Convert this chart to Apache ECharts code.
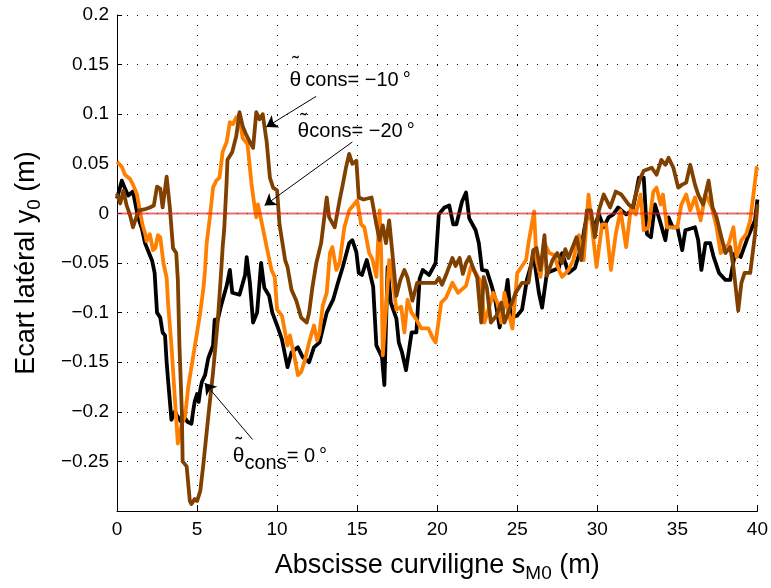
<!DOCTYPE html>
<html>
<head>
<meta charset="utf-8">
<script src="https://cdn.jsdelivr.net/npm/echarts@6/dist/echarts.min.js"></script>
<style>
  html, body { margin: 0; padding: 0; background: #fff; }
  #chart { width: 771px; height: 588px; }
</style>
</head>
<body>
<div id="chart"></div>
<script>
// abscisse (m) / écart latéral (m)
const xBlack = [0, 0.3, 0.5, 0.7, 1.0, 1.3, 1.55, 1.75, 2.0, 2.2, 2.35, 2.5, 2.7, 2.85, 3.0, 3.1, 3.2, 3.4, 3.5, 3.6, 3.8, 4.0, 4.2, 4.4, 4.65, 4.75, 4.85, 5.0, 5.1, 5.2, 5.3, 5.5, 5.7, 6.0, 6.1, 6.3, 6.5, 6.85, 7.05, 7.2, 7.65, 8.0, 8.1, 8.3, 8.5, 8.75, 9.0, 9.2, 9.5, 9.7, 10.0, 10.3, 10.65, 10.9, 11.3, 11.6, 12.0, 12.3, 12.65, 13.1, 13.5, 13.8, 14.1, 14.5, 14.7, 14.95, 15.1, 15.3, 15.6, 16.0, 16.2, 16.4, 16.55, 16.7, 16.9, 17.1, 17.45, 17.6, 17.8, 18.05, 18.4, 18.7, 18.9, 19.1, 19.5, 19.9, 20.1, 20.45, 20.75, 21.0, 21.2, 21.55, 21.8, 22.0, 22.4, 22.6, 22.8, 23.1, 23.4, 23.6, 23.9, 24.2, 24.4, 24.6, 25.0, 25.3, 25.6, 25.9, 26.0, 26.35, 26.55, 26.85, 27.3, 27.6, 27.8, 28.2, 28.6, 29.0, 29.2, 29.45, 29.8, 30.1, 30.4, 30.7, 31.0, 31.3, 31.8, 32.2, 32.4, 32.6, 32.9, 33.1, 33.35, 33.6, 33.9, 34.25, 34.45, 34.7, 35.0, 35.3, 35.5, 35.7, 36.1, 36.3, 36.5, 36.75, 37.05, 37.25, 37.6, 38.0, 38.3, 38.6, 38.95, 39.4, 39.85, 40.0]
const yBlack = [0.015, 0.033, 0.025, 0.018, 0.022, -0.003, -0.015, -0.03, -0.04, -0.048, -0.06, -0.1, -0.105, -0.12, -0.123, -0.15, -0.17, -0.208, -0.21, -0.2, -0.205, -0.21, -0.205, -0.21, -0.212, -0.2, -0.19, -0.182, -0.19, -0.178, -0.17, -0.163, -0.146, -0.133, -0.107, -0.107, -0.093, -0.073, -0.057, -0.08, -0.082, -0.062, -0.044, -0.07, -0.11, -0.1, -0.05, -0.075, -0.083, -0.1, -0.113, -0.127, -0.155, -0.14, -0.135, -0.145, -0.15, -0.135, -0.13, -0.1, -0.087, -0.07, -0.054, -0.03, -0.027, -0.039, -0.06, -0.062, -0.047, -0.074, -0.133, -0.14, -0.145, -0.173, -0.054, -0.09, -0.106, -0.13, -0.14, -0.158, -0.12, -0.12, -0.066, -0.057, -0.062, -0.05, -0.001, 0.006, 0.008, -0.011, -0.011, 0.012, 0.021, -0.005, -0.017, -0.03, -0.057, -0.058, -0.073, -0.085, -0.115, -0.09, -0.067, -0.105, -0.103, -0.097, -0.067, -0.05, -0.04, -0.08, -0.095, -0.06, -0.057, -0.055, -0.04, -0.06, -0.055, -0.034, -0.015, 0.003, -0.014, -0.001, -0.014, -0.004, -0.001, 0.006, -0.001, 0.003, 0.019, 0.036, 0.036, -0.021, -0.024, 0.009, -0.007, -0.027, -0.004, -0.014, -0.014, -0.037, -0.017, -0.016, -0.014, -0.027, -0.057, -0.03, -0.03, -0.043, -0.06, -0.067, -0.067, -0.04, -0.044, -0.024, -0.007, 0.014]

const xBrown = [0, 0.2, 0.4, 0.6, 0.8, 1.0, 1.2, 1.4, 1.7, 2.05, 2.3, 2.5, 2.7, 2.85, 3.1, 3.3, 3.5, 3.7, 3.8, 3.9, 4.05, 4.1, 4.35, 4.55, 4.65, 4.85, 5.0, 5.2, 5.4, 5.7, 6.0, 6.3, 6.5, 6.6, 6.7, 6.85, 6.9, 7.2, 7.45, 7.65, 7.85, 8.05, 8.3, 8.5, 8.7, 8.9, 9.1, 9.35, 9.55, 9.75, 10.0, 10.15, 10.5, 10.65, 10.9, 11.2, 11.5, 11.85, 12.0, 12.2, 12.45, 12.75, 13.1, 13.25, 13.6, 13.9, 14.1, 14.3, 14.5, 14.7, 14.95, 15.1, 15.4, 15.9, 16.2, 16.4, 16.6, 16.8, 17.0, 17.2, 17.45, 17.7, 17.95, 18.15, 18.45, 18.75, 19.1, 19.5, 19.9, 20.1, 20.3, 20.6, 20.95, 21.15, 21.4, 21.6, 21.8, 22.0, 22.2, 22.5, 22.75, 22.9, 23.1, 23.35, 23.7, 24.0, 24.2, 24.5, 24.9, 25.3, 25.7, 26.0, 26.2, 26.45, 26.7, 26.85, 27.2, 27.5, 27.8, 28.0, 28.2, 28.7, 29.0, 29.35, 29.6, 29.85, 30.1, 30.4, 30.8, 31.15, 31.5, 31.95, 32.2, 32.4, 32.7, 32.9, 33.4, 33.7, 34.0, 34.25, 34.45, 34.75, 35.05, 35.3, 35.55, 35.8, 36.1, 36.3, 36.6, 36.95, 37.2, 37.45, 37.75, 38.0, 38.3, 38.5, 38.8, 39.0, 39.2, 39.55, 39.85, 40.0]
const yBrown = [0.02, 0.01, 0.023, 0.008, -0.001, -0.014, -0.004, 0.003, 0.004, 0.006, 0.008, 0.027, 0.025, 0.006, 0.037, 0.006, -0.035, -0.04, -0.067, -0.133, -0.2, -0.25, -0.255, -0.29, -0.293, -0.288, -0.29, -0.28, -0.252, -0.205, -0.16, -0.107, -0.06, -0.034, -0.015, 0.033, 0.054, 0.062, 0.078, 0.102, 0.088, 0.08, 0.072, 0.066, 0.102, 0.095, 0.1, 0.072, 0.036, 0.026, 0.023, -0.011, -0.047, -0.054, -0.077, -0.088, -0.105, -0.11, -0.1, -0.075, -0.05, -0.03, 0.016, -0.004, -0.014, 0.013, 0.029, 0.046, 0.06, 0.05, 0.053, 0.016, 0.014, 0.016, -0.011, -0.027, -0.012, -0.03, -0.007, -0.04, -0.083, -0.067, -0.057, -0.065, -0.088, -0.07, -0.07, -0.07, -0.07, -0.065, -0.072, -0.06, -0.045, -0.053, -0.045, -0.061, -0.05, -0.044, -0.053, -0.065, -0.11, -0.064, -0.075, -0.11, -0.103, -0.09, -0.11, -0.097, -0.08, -0.07, -0.07, -0.037, -0.035, -0.057, -0.022, -0.063, -0.047, -0.04, -0.05, -0.036, -0.045, -0.024, -0.047, 0.003, 0.003, -0.024, 0.003, 0.019, 0.006, 0.022, 0.019, 0.009, 0.006, 0.019, 0.036, 0.043, 0.046, 0.039, 0.054, 0.049, 0.056, 0.046, 0.026, 0.029, 0.031, 0.049, 0.029, 0.019, 0.009, 0.033, 0.006, -0.004, -0.024, -0.04, -0.034, -0.054, -0.098, -0.07, -0.06, -0.06, -0.021, 0.009]

const xOrange = [0, 0.3, 0.5, 0.8, 1.0, 1.25, 1.4, 1.6, 1.75, 1.85, 2.05, 2.25, 2.4, 2.55, 2.7, 2.9, 3.1, 3.2, 3.4, 3.6, 3.8, 4.05, 4.25, 4.45, 4.65, 4.85, 5.0, 5.2, 5.4, 5.5, 5.6, 5.8, 6.0, 6.2, 6.4, 6.6, 6.85, 7.05, 7.25, 7.45, 7.65, 7.85, 8.15, 8.4, 8.6, 8.7, 8.8, 9.1, 9.35, 9.65, 9.85, 10.0, 10.3, 10.45, 10.65, 10.8, 11.1, 11.3, 11.5, 11.7, 12.0, 12.3, 12.5, 12.65, 12.85, 13.1, 13.3, 13.45, 13.7, 13.9, 14.2, 14.5, 14.8, 15.0, 15.25, 15.45, 15.75, 15.95, 16.2, 16.4, 16.5, 16.6, 16.8, 17.0, 17.2, 17.45, 17.75, 17.95, 18.15, 18.4, 18.7, 19.0, 19.45, 19.7, 19.9, 20.25, 20.55, 20.95, 21.3, 21.8, 22.1, 22.4, 22.75, 22.95, 23.2, 23.5, 23.75, 24.0, 24.2, 24.45, 24.7, 25.0, 25.3, 25.55, 25.7, 26.05, 26.2, 26.45, 26.7, 27.0, 27.3, 27.6, 27.8, 28.2, 28.5, 28.85, 29.15, 29.45, 29.75, 29.95, 30.3, 30.55, 30.85, 31.15, 31.45, 31.8, 32.1, 32.4, 32.7, 32.9, 33.2, 33.5, 33.7, 33.95, 34.1, 34.35, 34.7, 35.0, 35.25, 35.55, 35.8, 36.1, 36.45, 36.75, 36.95, 37.15, 37.45, 37.7, 38.0, 38.2, 38.5, 38.7, 39.0, 39.3, 39.55, 39.75, 39.95, 40.0]
const yOrange = [0.052, 0.047, 0.039, 0.035, 0.029, 0.019, 0.005, -0.012, -0.02, -0.028, -0.021, -0.037, -0.035, -0.022, -0.024, -0.05, -0.065, -0.093, -0.133, -0.183, -0.232, -0.212, -0.205, -0.175, -0.155, -0.135, -0.12, -0.1, -0.075, -0.057, -0.03, -0.004, 0.026, 0.033, 0.036, 0.062, 0.072, 0.092, 0.09, 0.097, 0.095, 0.076, 0.07, 0.03, 0.006, -0.004, 0.009, -0.014, -0.034, -0.057, -0.064, -0.097, -0.103, -0.116, -0.133, -0.123, -0.146, -0.163, -0.16, -0.15, -0.13, -0.113, -0.128, -0.12, -0.093, -0.08, -0.04, -0.034, -0.057, -0.05, -0.014, 0.003, 0.009, 0.013, -0.011, -0.014, -0.04, -0.046, -0.064, 0.003, -0.04, -0.143, -0.097, -0.047, -0.064, -0.097, -0.094, -0.12, -0.087, -0.1, -0.107, -0.116, -0.116, -0.125, -0.13, -0.09, -0.085, -0.07, -0.08, -0.073, -0.054, -0.06, -0.07, -0.11, -0.097, -0.08, -0.09, -0.11, -0.08, -0.1, -0.116, -0.06, -0.053, -0.047, -0.03, 0.002, -0.047, -0.064, -0.03, -0.04, -0.042, -0.057, -0.064, -0.057, -0.047, -0.022, -0.047, 0.019, -0.025, -0.054, -0.011, -0.011, -0.057, -0.021, 0.003, -0.034, 0.006, -0.001, 0.019, -0.017, -0.014, 0.022, 0.026, 0.009, 0.019, -0.014, -0.014, -0.014, 0.009, 0.019, 0.003, 0.016, -0.007, 0.019, 0.013, 0.006, -0.014, -0.04, -0.034, -0.031, -0.014, -0.044, -0.027, -0.021, -0.007, 0.019, 0.046, 0.043]

// ligne de référence y = 0
const xRef = [0, 40]
const yRef = [0, 0]

// annotations : texte, ancrage du texte, queue et pointe des flèches (coordonnées données)
const annotNames = ['-10', '-20', '0']
const annotTextAt = [[10.78, 0.134], [11.28, 0.083], [7.23, -0.245]]
const annotArrowFrom = [[12.44, 0.118], [14.7, 0.072], [8.47, -0.228]]
const annotArrowTo = [[9.32, 0.087], [9.22, 0.008], [5.48, -0.171]]

const pairs = (xs, ys) => xs.map((x, i) => [x, ys[i]])

const FONT = '"Liberation Sans", Arial, Helvetica, sans-serif'

const chart = echarts.init(document.getElementById('chart'), null, { renderer: 'canvas' })

const fmtY = (v) => {
  const r = Math.round(v * 100) / 100
  if (Math.abs(r + 0.3) < 1e-9) return ''
  return String(r).replace('-', '\u2212')
}

const lineSeries = (name, xs, ys, color, z) => ({
  name: name,
  type: 'line',
  data: pairs(xs, ys),
  showSymbol: false,
  symbol: 'none',
  z: z,
  lineStyle: { color: color, width: 3.8, join: 'round' },
  itemStyle: { color: color },
  emphasis: { disabled: true }
})

const nameRich = {
  n: { fontSize: 27, fontFamily: FONT, color: '#000', lineHeight: 30 },
  s: { fontSize: 19, fontFamily: FONT, color: '#000', padding: [16, 0, 0, 0] }
}

const option = {
  animation: false,
  backgroundColor: '#fff',
  textStyle: { fontFamily: FONT },
  grid: { left: 117, right: 12, top: 15, bottom: 69, containLabel: false },
  xAxis: {
    type: 'value',
    min: 0,
    max: 40,
    interval: 5,
    name: '{n|Abscisse curviligne s}{s|M0}{n| (m)}',
    nameLocation: 'middle',
    nameGap: 37,
    nameTextStyle: { rich: nameRich },
    axisLine: { show: true, onZero: false, lineStyle: { color: '#000', width: 1 } },
    axisTick: { show: true, inside: true, length: 5, lineStyle: { color: '#000' } },
    axisLabel: { color: '#000', fontSize: 19, fontFamily: FONT, margin: 9 },
    splitLine: { show: true, lineStyle: { color: '#000', width: 1, type: [1, 9] } }
  },
  yAxis: {
    type: 'value',
    min: -0.3,
    max: 0.2,
    interval: 0.05,
    name: '{n|Ecart latéral y}{s|0}{n| (m)}',
    nameLocation: 'middle',
    nameGap: 73,
    nameTextStyle: { rich: nameRich },
    axisLine: { show: true, onZero: false, lineStyle: { color: '#000', width: 1 } },
    axisTick: { show: true, inside: true, length: 5, lineStyle: { color: '#000' } },
    axisLabel: { color: '#000', fontSize: 19, fontFamily: FONT, margin: 8, formatter: fmtY },
    splitLine: { show: true, lineStyle: { color: '#000', width: 1, type: [1, 9] } }
  },
  series: [
    lineSeries('0', xBlack, yBlack, '#000000', 2),
    lineSeries('-20', xOrange, yOrange, '#ff8000', 3),
    lineSeries('-10', xBrown, yBrown, '#7f4000', 4),
    {
      name: 'ref',
      type: 'line',
      data: pairs(xRef, yRef),
      symbol: 'none',
      z: 5,
      lineStyle: { color: 'rgba(230, 30, 30, 0.65)', width: 2 },
      emphasis: { disabled: true },
      markLine: {
        silent: true,
        symbol: ['none', 'arrow'],
        symbolSize: 11,
        label: { show: false },
        lineStyle: { color: '#000', width: 1, type: 'solid' },
        data: annotArrowFrom.map((p, i) => [{ coord: p }, { coord: annotArrowTo[i] }])
      }
    }
  ]
}

chart.setOption(option)

// textes des annotations, placés via l'échelle du graphique
const richLabel = {
  t: { fontSize: 21, fontFamily: FONT, color: '#000' },
  c: { fontSize: 20, fontFamily: FONT, color: '#000' },
  sub: { fontSize: 20, fontFamily: FONT, color: '#000', padding: [14, 0, 0, 0] }
}

const graphics = []
annotNames.forEach((nm, i) => {
  const p = chart.convertToPixel({ gridIndex: 0 }, annotTextAt[i])
  let text
  let tildeDy
  if (nm === '0') {
    text = '{t|\u03B8}{sub|cons}{c|= 0\u2009\u00B0}'
    tildeDy = -11
  } else if (nm === '-10') {
    text = '{t|\u03B8}{c|\u2009cons= \u221210\u2009\u00B0}'
    tildeDy = -16
  } else {
    text = '{t|\u03B8}{c|cons= \u221220\u2009\u00B0}'
    tildeDy = -10
  }
  graphics.push({
    type: 'text',
    x: p[0],
    y: p[1],
    z: 10,
    style: { text: text, rich: richLabel, verticalAlign: 'middle', align: 'left' }
  })
  // tilde au-dessus du theta
  graphics.push({
    type: 'text',
    x: p[0] + 6,
    y: p[1] + tildeDy,
    z: 10,
    style: { text: '\u02DC', fontSize: 20, fontFamily: FONT, fill: '#000', align: 'center', verticalAlign: 'middle' }
  })
})

chart.setOption({ graphic: graphics })
</script>
</body>
</html>
